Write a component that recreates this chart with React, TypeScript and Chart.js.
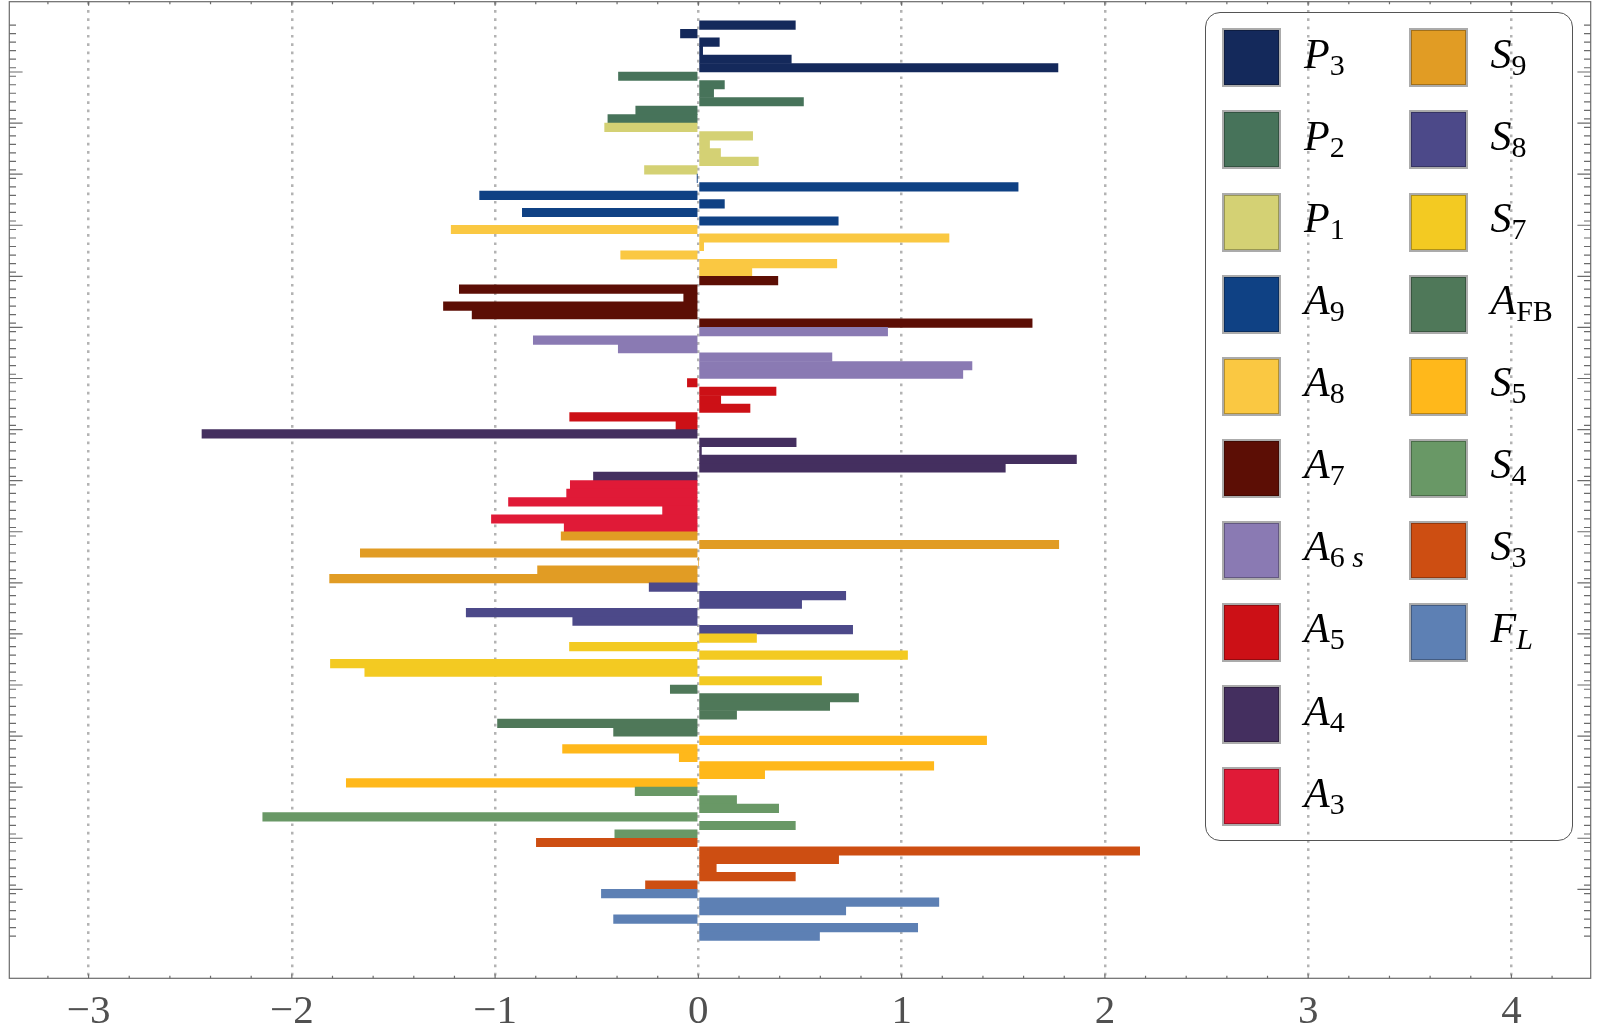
import React, { useEffect, useRef } from "react";
import { Chart, registerables } from "chart.js";

Chart.register(...registerables);

// ---- data ----
const groupNames = ["P3", "P2", "P1", "A9", "A8", "A7", "A6s", "A5", "A4", "A3", "S9", "S8", "S7", "AFB", "S5", "S4", "S3", "FL"];

const P3 = [0.477, -0.088, 0.103, 0.021, 0.457, 1.769];
const P2 = [-0.393, 0.128, 0.075, 0.517, -0.308, -0.445];
const P1 = [-0.461, 0.267, 0.055, 0.109, 0.295, -0.265];
const A9 = [-0.005, 1.573, -1.076, 0.128, -0.866, 0.688];
const A8 = [-1.216, 1.233, 0.026, -0.382, 0.681, 0.263];
const A7 = [0.391, -1.176, -0.072, -1.254, -1.113, 1.642];
const A6s = [0.931, -0.812, -0.394, 0.657, 1.346, 1.301];
const A5 = [-0.054, 0.382, 0.11, 0.254, -0.633, -0.11];
const A4 = [-2.442, 0.481, 0.015, 1.86, 1.51, -0.516];
const A3 = [-0.63, -0.648, -0.934, -0.176, -1.018, -0.66];
const S9 = [-0.675, 1.773, -1.663, 0, -0.791, -1.814];
const S8 = [-0.242, 0.725, 0.508, -1.142, -0.618, 0.759];
const S7 = [0.286, -0.634, 1.029, -1.81, -1.641, 0.606];
const AFB = [-0.138, 0.788, 0.646, 0.188, -0.988, -0.417];
const S5 = [1.418, -0.668, -0.094, 1.158, 0.326, -1.732];
const S4 = [-0.311, 0.188, 0.395, -2.143, 0.477, -0.411];
const S3 = [-0.797, 2.171, 0.69, 0.088, 0.477, -0.26];
const FL = [-0.477, 1.183, 0.725, -0.417, 1.079, 0.596];

const groupValues = [P3, P2, P1, A9, A8, A7, A6s, A5, A4, A3, S9, S8, S7, AFB, S5, S4, S3, FL];

const groupColors = [
  "#14295b", "#47735a", "#d4d174", "#0f4184", "#fac842", "#5c0e05",
  "#8a7ab3", "#cc1016", "#442f5f", "#e01a37", "#e19c24", "#4c4989",
  "#f3ca22", "#4f7859", "#ffb81b", "#699866", "#cd4e12", "#5d80b4",
];

// legend labels: main letter (italic) + subscript parts
type SubPart = { t: string; it: boolean };
const legendLabels: { main: string; sub: SubPart[] }[] = [
  { main: "P", sub: [{ t: "3", it: false }] },
  { main: "P", sub: [{ t: "2", it: false }] },
  { main: "P", sub: [{ t: "1", it: false }] },
  { main: "A", sub: [{ t: "9", it: false }] },
  { main: "A", sub: [{ t: "8", it: false }] },
  { main: "A", sub: [{ t: "7", it: false }] },
  { main: "A", sub: [{ t: "6 ", it: false }, { t: "s", it: true }] },
  { main: "A", sub: [{ t: "5", it: false }] },
  { main: "A", sub: [{ t: "4", it: false }] },
  { main: "A", sub: [{ t: "3", it: false }] },
  { main: "S", sub: [{ t: "9", it: false }] },
  { main: "S", sub: [{ t: "8", it: false }] },
  { main: "S", sub: [{ t: "7", it: false }] },
  { main: "A", sub: [{ t: "FB", it: false }] },
  { main: "S", sub: [{ t: "5", it: false }] },
  { main: "S", sub: [{ t: "4", it: false }] },
  { main: "S", sub: [{ t: "3", it: false }] },
  { main: "F", sub: [{ t: "L", it: true }] },
];

const xTickValues = [-3, -2, -1, 0, 1, 2, 3, 4];
const xMinorStep = 0.2;
const xMin = -3.39;
const xMax = 4.39;
const yMin = -2.755;
const yMax = 111.95;

const BARS_PER_GROUP = 6;

const fmt = (v: number) => (v < 0 ? "\u2212" + Math.abs(v) : String(v));

const framePlugin = {
  id: "mmaFrame",
  afterDraw(chart: any) {
    const { ctx, chartArea: a, scales } = chart;
    const xs = scales.x;
    const ys = scales.y;
    ctx.save();
    ctx.strokeStyle = "#6b6b6b";
    ctx.lineWidth = 1.2;
    ctx.strokeRect(a.left, a.top, a.right - a.left, a.bottom - a.top);
    ctx.beginPath();
    // x ticks (top & bottom, inward)
    const kStart = Math.ceil(xMin / xMinorStep - 1e-9);
    const kEnd = Math.floor(xMax / xMinorStep + 1e-9);
    for (let k = kStart; k <= kEnd; k++) {
      const v = k * xMinorStep;
      const px = xs.getPixelForValue(v);
      const major = Math.abs(v - Math.round(v)) < 1e-6;
      const len = major ? 4 : 2.5;
      ctx.moveTo(px, a.bottom);
      ctx.lineTo(px, a.bottom - len);
      ctx.moveTo(px, a.top);
      ctx.lineTo(px, a.top + len);
    }
    // y ticks: at each bar and longer at group boundaries
    const nBars = groupValues.length * BARS_PER_GROUP;
    for (let i = 0; i < nBars; i++) {
      const py = ys.getPixelForValue(i);
      ctx.moveTo(a.left, py);
      ctx.lineTo(a.left + 6.7, py);
      ctx.moveTo(a.right, py);
      ctx.lineTo(a.right - 6.7, py);
    }
    for (let g = 1; g < groupValues.length; g++) {
      const py = ys.getPixelForValue(g * BARS_PER_GROUP - 0.5);
      ctx.moveTo(a.left, py);
      ctx.lineTo(a.left + 13.3, py);
      ctx.moveTo(a.right, py);
      ctx.lineTo(a.right - 13.3, py);
    }
    ctx.stroke();
    ctx.restore();
  },
};

function Legend() {
  const items = legendLabels.map((lab, idx) => {
    const col = idx < 10 ? 0 : 1;
    const row = idx < 10 ? idx : idx - 10;
    const swLeft = col === 0 ? 1221.5 : 1409.2;
    const swTop = 28.4 + row * 82.05;
    const labelLeft = col === 0 ? 1304 : 1490.5;
    const baseline = 68.3 + row * 82.05;
    return (
      <React.Fragment key={idx}>
        <div
          style={{
            position: "absolute",
            left: swLeft,
            top: swTop,
            width: 59,
            height: 59,
            boxSizing: "border-box",
            border: "2px solid #ababab",
            background: groupColors[idx],
            boxShadow: "inset 0 0 0 1px rgba(0,0,0,0.28)",
          }}
        />
        <div
          style={{
            position: "absolute",
            left: labelLeft,
            top: baseline - 35.2,
            fontFamily: "'Liberation Serif', 'DejaVu Serif', serif",
            fontSize: 42,
            lineHeight: "42px",
            whiteSpace: "pre",
            color: "#000",
          }}
        >
          <span style={{ fontStyle: "italic" }}>{lab.main}</span>
          <span style={{ fontSize: 30, verticalAlign: "-6.5px" }}>
            {lab.sub.map((p, j) => (
              <span key={j} style={{ fontStyle: p.it ? "italic" : "normal" }}>
                {p.t}
              </span>
            ))}
          </span>
        </div>
      </React.Fragment>
    );
  });
  return (
    <>
      <div
        style={{
          position: "absolute",
          left: 1205,
          top: 11.6,
          width: 368.4,
          height: 829,
          boxSizing: "border-box",
          border: "1.3px solid #555",
          borderRadius: 15,
        }}
      />
      {items}
    </>
  );
}

export default function App() {
  const canvasRef = useRef<HTMLCanvasElement | null>(null);

  useEffect(() => {
    if (!canvasRef.current) return;
    const points: { x: number; y: number }[] = [];
    const colors: string[] = [];
    groupValues.forEach((vals, g) => {
      vals.forEach((v, j) => {
        points.push({ x: v, y: g * BARS_PER_GROUP + j });
        colors.push(groupColors[g]);
      });
    });
    const barIndices = points.map((p) => p.y);

    const chart = new Chart(canvasRef.current, {
      type: "bar",
      data: {
        datasets: [
          {
            label: "values",
            data: points as any,
            backgroundColor: colors,
            borderWidth: 0,
            barPercentage: 1,
            categoryPercentage: 1,
          },
        ],
      },
      options: {
        indexAxis: "y",
        responsive: false,
        animation: false,
        devicePixelRatio: 1,
        layout: { padding: { left: 9.3, right: 9.3, top: 1.7, bottom: 0 } },
        plugins: {
          legend: { display: false },
          tooltip: { enabled: false },
        },
        scales: {
          x: {
            type: "linear",
            min: xMin,
            max: xMax,
            offset: false,
            afterBuildTicks: (s: any) => {
              s.ticks = xTickValues.map((v) => ({ value: v }));
            },
            afterFit: (s: any) => {
              s.height = 1035 - 978.3;
            },
            grid: { color: "#b3b3b3", lineWidth: 2.5, drawTicks: false, offset: false },
            border: { display: false, dash: [2.7, 5.6] },
            ticks: {
              padding: 9,
              color: "#505050",
              font: { family: "'Liberation Serif', serif", size: 41 },
              callback: (v: any) => fmt(Number(v)),
              maxRotation: 0,
              autoSkip: false,
            },
          },
          y: {
            type: "linear",
            reverse: true,
            min: yMin,
            max: yMax,
            offset: false,
            afterBuildTicks: (s: any) => {
              s.ticks = barIndices.map((v) => ({ value: v }));
            },
            afterFit: (s: any) => {
              s.width = 0;
            },
            grid: { display: false, drawTicks: false, offset: false },
            border: { display: false },
            ticks: { display: false },
          },
        },
      } as any,
      plugins: [framePlugin],
    });
    return () => chart.destroy();
  }, []);

  return (
    <div style={{ position: "absolute", left: 0, top: 0, width: 1600, height: 1035, background: "#fff" }}>
      <canvas ref={canvasRef} width={1600} height={1035} style={{ display: "block", width: 1600, height: 1035 }} />
      <Legend />
    </div>
  );
}
